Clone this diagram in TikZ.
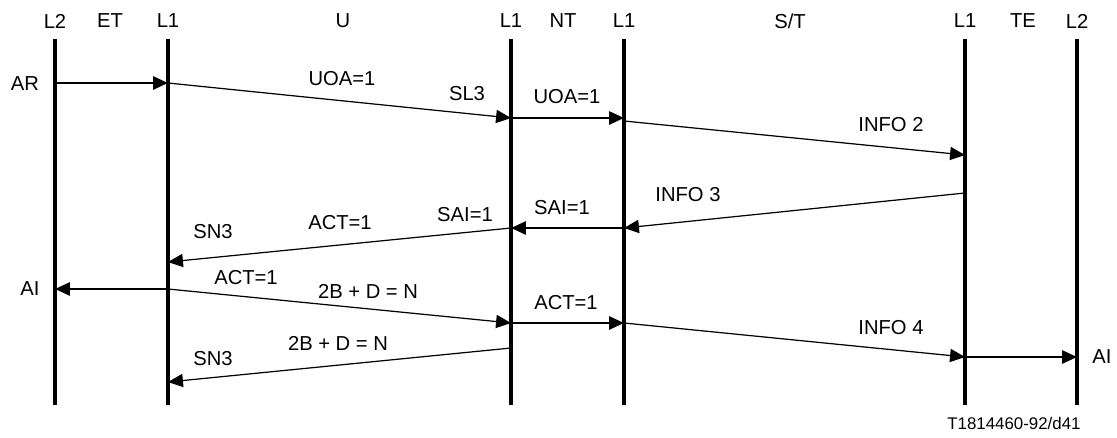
\documentclass[tikz,border=0pt]{standalone}
\usepackage{fontspec}
\setmainfont{Liberation Sans}
\usetikzlibrary{arrows.meta}
\tikzset{
  life/.style={line width=2.5pt},
  hmsg/.style={-{Triangle[length=8.5pt,width=7.5pt]}, line width=1.3pt},
  dmsg/.style={-{Triangle[length=8.5pt,width=7.5pt]}, line width=0.7pt},
  lbl/.style={font=\fontsize{11.5}{13}\selectfont, inner sep=0pt},
  foot/.style={font=\fontsize{9.6}{11}\selectfont, inner sep=0pt},
}

\begin{document}
\begin{tikzpicture}[x=0.02cm, y=-0.02cm]
  \useasboundingbox (0,0) rectangle (1117,437);

  % Lifelines
  \coordinate (etltwo) at (55,39);
  \coordinate (etlone) at (168,39);
  \coordinate (ntlu)   at (511,39);
  \coordinate (ntls)   at (624,39);
  \coordinate (telone) at (965,39);
  \coordinate (teltwo) at (1077,39);
  \draw[life] (etltwo) -- ++(0,366);
  \draw[life] (etlone) -- ++(0,366);
  \draw[life] (ntlu)   -- ++(0,366);
  \draw[life] (ntls)   -- ++(0,366);
  \draw[life] (telone) -- ++(0,366);
  \draw[life] (teltwo) -- ++(0,366);

  % Header labels
  \node[lbl] (hl2a) at (55,21)   {L2};
  \node[lbl] (het)  at (110,21)  {ET};
  \node[lbl] (hl1a) at (168,21)  {L1};
  \node[lbl] (hu)   at (343,21)  {U};
  \node[lbl] (hl1b) at (511,21)  {L1};
  \node[lbl] (hnt)  at (563,21)  {NT};
  \node[lbl] (hl1c) at (624,21)  {L1};
  \node[lbl] (hst)  at (790,21)  {S/T};
  \node[lbl] (hl1d) at (965,21)  {L1};
  \node[lbl] (hte)  at (1023,21) {TE};
  \node[lbl] (hl2b) at (1077,21) {L2};

  % Message end points
  \coordinate (ar0)   at (etltwo |- 0,83);
  \coordinate (ar1)   at (etlone |- 0,83);
  \coordinate (uoa1)  at (ntlu |- 0,118);
  \coordinate (uoa2)  at (ntls |- 0,118);
  \coordinate (inf2a) at (ntls |- 0,121);
  \coordinate (inf2b) at (telone |- 0,155);
  \coordinate (inf3a) at (telone |- 0,193);
  \coordinate (inf3b) at (ntls |- 0,228);
  \coordinate (sai1)  at (ntlu |- 0,228);
  \coordinate (sn3a)  at (etlone |- 0,262);
  \coordinate (ai0)   at (etlone |- 0,289);
  \coordinate (ai1)   at (etltwo |- 0,289);
  \coordinate (act1)  at (ntlu |- 0,323);
  \coordinate (act2)  at (ntls |- 0,323);
  \coordinate (inf4b) at (telone |- 0,357);
  \coordinate (ai2)   at (teltwo |- 0,357);
  \coordinate (bdn0)  at (ntlu |- 0,348);
  \coordinate (sn3b)  at (etlone |- 0,382);

  % Labels
  \node[lbl] (lar)   at (25,84)   {AR};
  \node[lbl] (luoa)  at (342,79)  {UOA=1};
  \node[lbl] (lslt)  at (467,94)  {SL3};
  \node[lbl] (luoab) at (567,97)  {UOA=1};
  \node[lbl] (linf2) at (891,125) {INFO 2};
  \node[lbl] (linf3) at (688,195) {INFO 3};
  \node[lbl] (lsaib) at (562,208) {SAI=1};
  \node[lbl] (lsai)  at (465,215) {SAI=1};
  \node[lbl] (lact)  at (340,223) {ACT=1};
  \node[lbl] (lsn3a) at (213,232) {SN3};
  \node[lbl] (lai)   at (30,289)  {AI};
  \node[lbl] (lactb) at (246,278) {ACT=1};
  \node[lbl] (lbdn)  at (368,291) {2B + D = N};
  \node[lbl] (lactc) at (566,303) {ACT=1};
  \node[lbl] (linf4) at (891,328) {INFO 4};
  \node[lbl] (laib)  at (1102,357) {AI};
  \node[lbl] (lbdnb) at (338,343) {2B + D = N};
  \node[lbl] (lsn3b) at (213,359) {SN3};
  \node[foot] (ref)  at (1014,423) {T1814460-92/d41};

  % Messages
  \draw[hmsg] (ar0) -- (ar1);
  \draw[dmsg] (ar1) -- (uoa1);
  \draw[hmsg] (uoa1) -- (uoa2);
  \draw[dmsg] (inf2a) -- (inf2b);
  \draw[dmsg] (inf3a) -- (inf3b);
  \draw[hmsg] (inf3b) -- (sai1);
  \draw[dmsg] (sai1) -- (sn3a);
  \draw[hmsg] (ai0) -- (ai1);
  \draw[dmsg] (ai0) -- (act1);
  \draw[hmsg] (act1) -- (act2);
  \draw[dmsg] (act2) -- (inf4b);
  \draw[hmsg] (inf4b) -- (ai2);
  \draw[dmsg] (bdn0) -- (sn3b);

\end{tikzpicture}
\end{document}
